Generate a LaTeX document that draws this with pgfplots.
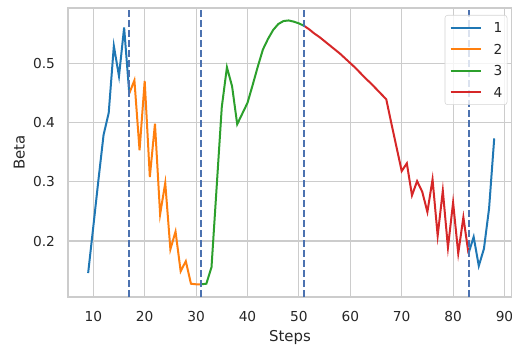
\documentclass[border=0pt]{standalone}
\usepackage{fontspec}
\setmainfont{DejaVu Sans}
\usepackage{pgfplots}
\pgfplotsset{compat=1.18}
\usetikzlibrary{calc}
\definecolor{c1}{HTML}{1F77B4}
\definecolor{c2}{HTML}{FF7F0E}
\definecolor{c3}{HTML}{2CA02C}
\definecolor{c4}{HTML}{D62728}
\definecolor{dashc}{HTML}{4C72B0}
\definecolor{gridc}{HTML}{CCCCCC}
\definecolor{txt}{HTML}{262626}
\begin{document}
\begin{tikzpicture}
\begin{axis}[name=ax,
  scale only axis, width=333pt, height=216.75pt,
  xmin=5.08, xmax=91.46, ymin=0.1056, ymax=0.593,
  xtick={10,20,30,40,50,60,70,80,90},
  ytick={0.2,0.3,0.4,0.5},
  /pgf/number format/assume math mode=true,
  yticklabel style={/pgf/number format/fixed,/pgf/number format/precision=1,/pgf/number format/fixed zerofill, font=\fontsize{10.3}{12}\selectfont, text=txt, xshift=-6.3pt},
  xticklabel style={font=\fontsize{10.3}{12}\selectfont, text=txt, yshift=-7.4pt},
  major tick length=0pt,
  grid=major, grid style={gridc, line width=0.8pt},
  axis line style={gridc, line width=0.9pt},
  xlabel={Steps}, ylabel={Beta},
  label style={font=\fontsize{11.2}{13}\selectfont, text=txt},
  xlabel style={at={(axis description cs:0.5,0)}, anchor=base, yshift=-33pt},
  ylabel style={at={(axis description cs:0,0.5)}, anchor=center, yshift=36.5pt},
  unbounded coords=jump,
  legend cell align=left,
  legend image code/.code={\draw[#1] (0pt,0pt) -- (23pt,0pt);},
  legend style={at={(1,1)}, anchor=north east, xshift=-3.5pt, yshift=-5.25pt,
    draw=black!17, rounded corners=2pt, fill=white, fill opacity=0.8, text opacity=1,
    font=\fontsize{10.3}{12}\selectfont, text=txt,
    nodes={inner xsep=0pt, inner ysep=0pt, text height=7.5pt, text depth=0pt},
    row sep=8.7pt, column sep=8.5pt,
    inner xsep=3.5pt, inner ysep=5.5pt},
]
\addplot[c1, line width=1.5pt] coordinates {
(9,0.146) (10,0.224) (11,0.303) (12,0.379) (13,0.416) (14,0.529) (15,0.478) (16,0.560) (17,0.449)
(50,nan)
(83,0.179) (84,0.207) (85,0.158) (86,0.187) (87,0.255) (88,0.373)};
\addlegendentry{1}
\addplot[c2, line width=1.5pt] coordinates {
(17,0.449) (18,0.471) (19,0.353) (20,0.470) (21,0.308) (22,0.398) (23,0.245) (24,0.298)
(25,0.186) (26,0.216) (27,0.149) (28,0.166) (29,0.128) (30,0.127) (31,0.127)};
\addlegendentry{2}
\addplot[c3, line width=1.5pt] coordinates {
(31,0.127) (32,0.128) (33,0.156) (34,0.291) (35,0.426) (36,0.493) (37,0.461) (38,0.397)
(39,0.415) (40,0.433) (41,0.463) (42,0.494) (43,0.523) (44,0.541) (45,0.556) (46,0.566)
(47,0.571) (48,0.572) (49,0.570) (50,0.567) (51,0.563)};
\addlegendentry{3}
\addplot[c4, line width=1.5pt] coordinates {
(51,0.563) (52,0.557) (53,0.550) (54,0.544) (55,0.537) (56,0.530) (57,0.523) (58,0.516)
(59,0.508) (60,0.500) (61,0.492) (62,0.483) (63,0.474) (64,0.466) (65,0.457) (66,0.448)
(67,0.439) (68,0.398) (69,0.358) (70,0.318) (71,0.331) (72,0.277) (73,0.301) (74,0.283)
(75,0.249) (76,0.304) (77,0.209) (78,0.285) (79,0.189) (80,0.265) (81,0.179) (82,0.240)
(83,0.179)};
\addlegendentry{4}
\addplot[forget plot, dashc, line width=1.5pt, dash pattern=on 5pt off 2.5pt] coordinates {(17,0.1056) (17,0.593)};
\addplot[forget plot, dashc, line width=1.5pt, dash pattern=on 5pt off 2.5pt] coordinates {(31,0.1056) (31,0.593)};
\addplot[forget plot, dashc, line width=1.5pt, dash pattern=on 5pt off 2.5pt] coordinates {(51,0.1056) (51,0.593)};
\addplot[forget plot, dashc, line width=1.5pt, dash pattern=on 5pt off 2.5pt] coordinates {(83,0.1056) (83,0.593)};
\end{axis}
\pgfresetboundingbox
\path ($(ax.south west)+(-51pt,-36pt)$) rectangle ($(ax.north east)+(0pt,6pt)$);
\end{tikzpicture}
\end{document}
